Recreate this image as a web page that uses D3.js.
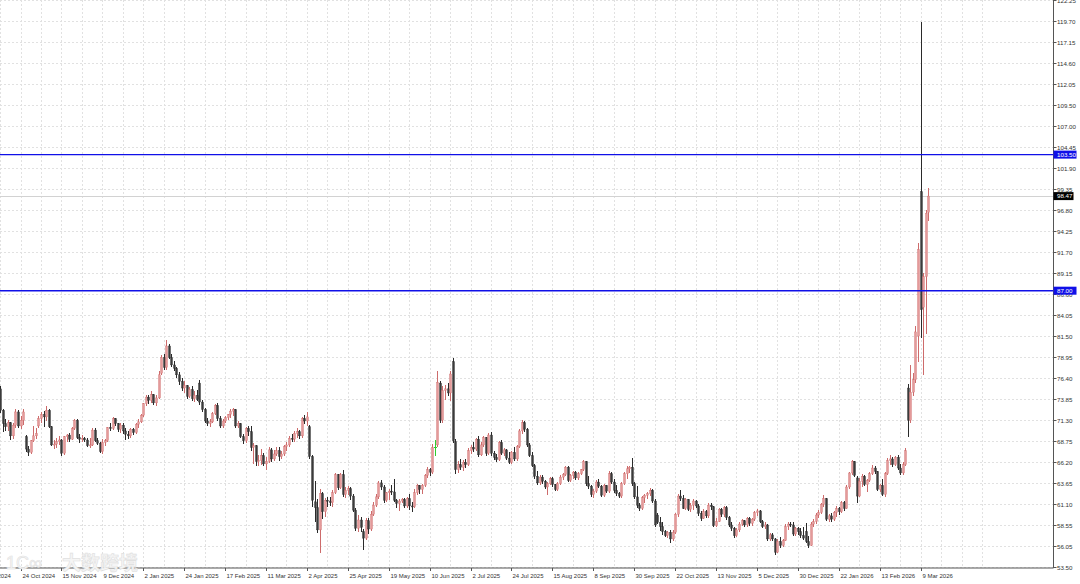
<!DOCTYPE html>
<html><head><meta charset="utf-8">
<script src="https://cdn.jsdelivr.net/npm/d3@7"></script>
<style>html,body{margin:0;padding:0;background:#fff;overflow:hidden}svg{display:block}</style>
</head><body><svg id="c" width="1080" height="584"></svg>
<script>
// Daily OHLC, first element = bar #8 of the axis (bar #0 = 2 Oct 2024)
const firstBar = 8;
const opens = [
75.1,72.5,70.9,70.5,71.0,69.4,70.7,72.3,
70.6,71.3,69.3,67.8,67.4,68.8,69.4,70.6,71.5,72.0,71.7,72.5,70.5,68.3,68.4,68.7,
68.9,67.3,69.3,69.5,69.0,70.3,71.3,69.2,69.0,69.1,68.9,68.2,68.3,70.1,68.8,68.5,
67.5,68.6,68.8,70.4,70.3,71.5,70.9,70.2,70.7,70.0,69.6,69.4,70.2,69.8,70.8,71.1,
71.9,73.3,74.1,73.7,74.4,73.4,74.0,77.0,78.9,77.7,80.3,78.9,78.0,77.6,76.8,76.0,
75.2,75.5,74.2,75.0,73.9,74.3,75.8,73.5,72.6,71.2,70.9,71.1,72.1,73.1,71.5,70.6,
71.2,71.6,72.0,72.4,72.6,70.6,70.9,69.3,68.8,70.3,69.9,68.0,68.2,66.3,66.4,67.0,
66.0,66.3,67.7,66.6,67.2,67.6,66.9,67.2,68.1,68.3,69.1,69.0,69.7,69.9,69.4,71.5,
71.2,70.5,66.9,61.4,60.7,58.0,62.4,60.2,61.6,61.5,61.3,62.5,64.7,63.1,64.7,62.3,
62.8,63.0,62.1,60.4,58.2,59.2,57.8,57.0,59.1,58.1,59.9,61.0,62.0,63.7,63.2,61.6,
62.5,62.7,62.6,61.6,61.2,61.5,61.7,60.9,61.8,60.9,60.8,62.5,63.4,62.9,63.4,64.6,
65.3,65.0,68.0,68.3,75.8,71.3,74.9,75.1,74.6,78.4,68.7,65.3,65.9,65.6,66.2,65.9,
67.6,68.0,67.8,69.0,67.1,68.3,69.2,67.3,69.5,67.3,66.8,66.5,68.6,67.3,67.7,66.7,
66.2,67.4,66.6,68.1,70.0,71.0,70.2,68.3,67.0,65.8,64.5,63.7,64.4,63.9,63.2,63.6,
64.2,63.5,62.9,63.6,64.4,64.7,65.6,64.0,64.6,65.0,64.3,64.8,65.3,66.3,63.6,63.3,
62.3,62.7,63.8,63.3,62.2,63.4,62.7,64.8,63.8,62.8,62.4,62.1,63.6,64.8,65.4,65.6,
63.6,62.0,61.0,60.6,61.9,62.2,62.4,62.8,61.5,59.8,58.9,58.4,57.8,57.3,57.7,56.9,
57.7,59.9,62.1,61.8,60.6,61.7,60.5,61.0,61.5,60.9,60.0,59.4,60.2,59.7,61.0,60.8,
58.5,59.0,60.5,59.9,60.7,59.5,58.6,58.2,57.3,58.0,58.7,59.1,58.6,59.4,58.8,59.3,
60.1,60.3,59.0,58.4,58.6,56.9,57.4,56.9,55.3,56.6,56.1,56.7,58.4,58.7,58.6,57.5,
58.2,57.8,57.3,57.8,56.6,56.1,58.7,59.0,59.8,60.1,61.1,61.8,59.3,59.7,59.3,60.1,
60.6,60.2,61.3,60.6,63.2,64.9,66.3,64.3,62.1,63.9,64.5,63.5,64.0,64.8,65.5,65.1,
62.9,63.4,62.3,64.8,66.4,66.6,65.9,66.8,65.5,64.9,65.9,75.2,71.3,74.7,76.2,81.5,
99.0,85.0,88.7,96.5];
const highs = [
75.4,72.7,71.4,71.3,71.1,70.9,72.6,72.5,
71.8,72.6,69.5,68.2,68.9,70.6,70.4,71.8,72.3,72.4,73.0,72.6,70.6,68.9,69.2,69.4,
69.0,69.4,69.6,69.8,70.5,71.5,71.4,69.6,69.5,69.3,69.1,69.2,70.3,70.3,69.2,68.7,
69.0,69.0,70.5,71.0,71.7,71.6,71.0,71.0,70.9,70.3,70.0,70.4,70.4,70.9,71.4,72.0,
73.4,74.3,74.4,74.8,74.5,74.3,77.3,79.2,79.3,81.0,80.5,79.3,78.5,77.8,77.2,76.4,
76.0,75.6,75.3,75.4,74.8,75.0,76.2,73.7,72.8,71.6,71.5,72.3,73.3,73.4,71.8,71.4,
71.8,72.1,72.6,72.8,72.7,71.2,71.0,69.6,70.5,70.6,70.6,68.5,68.3,67.1,67.8,67.3,
66.8,68.0,67.9,67.7,68.0,68.0,67.6,68.3,68.6,69.4,69.6,70.0,70.3,70.1,71.7,71.9,
72.3,70.7,67.1,63.9,61.8,62.9,62.6,61.9,62.0,62.0,62.8,64.9,64.8,64.9,65.3,63.2,
63.3,63.2,62.3,60.6,59.8,59.6,58.1,59.5,59.4,60.3,61.4,62.3,63.9,64.0,63.4,62.6,
62.9,63.5,64.2,61.8,61.8,61.9,61.9,62.0,62.4,61.4,63.0,63.6,63.5,63.6,64.8,65.6,
65.5,68.4,68.9,77.3,76.0,75.4,75.6,75.8,77.3,78.9,69.0,66.4,66.6,66.5,66.6,67.9,
68.3,68.6,69.2,69.4,68.6,69.4,69.3,69.8,69.9,67.6,67.2,68.8,68.9,67.9,67.8,67.4,
67.6,68.1,68.3,70.2,71.3,71.2,70.4,68.5,67.5,66.0,65.1,64.6,64.6,64.1,63.8,64.4,
64.4,63.6,63.8,64.6,64.9,65.8,65.8,64.8,65.2,65.1,65.0,65.4,66.5,66.4,64.5,63.5,
62.9,64.0,64.2,63.5,63.6,63.5,65.1,65.0,64.2,63.4,62.6,63.8,65.0,65.7,65.8,66.7,
63.8,63.3,61.3,62.1,62.4,62.6,63.1,62.9,61.7,60.0,59.6,59.0,58.0,57.9,58.0,58.0,
60.1,62.4,62.8,62.2,61.9,61.8,61.3,61.7,61.6,61.1,60.3,60.5,60.4,61.3,61.2,60.9,
59.4,60.7,60.7,60.9,60.9,59.7,59.0,58.4,58.2,58.9,59.3,59.2,59.6,59.6,59.5,60.3,
60.5,60.4,59.2,58.9,58.7,57.6,57.6,57.0,56.9,57.1,56.9,58.7,58.9,59.0,59.0,58.4,
58.4,58.2,58.3,58.8,57.2,58.9,59.3,60.0,60.4,61.3,62.2,61.9,59.9,60.0,60.3,60.9,
60.8,61.5,61.5,63.4,65.0,66.5,66.4,64.5,64.3,64.8,64.6,64.2,65.0,65.9,65.7,65.2,
63.6,64.2,65.0,66.7,67.1,66.8,67.0,67.1,66.0,66.2,67.9,75.7,78.0,77.0,82.7,92.8,
119.6,89.2,96.8,99.4];
const lows = [
72.2,69.9,70.0,70.0,68.9,69.0,70.4,70.4,
70.2,70.7,67.5,66.9,67.2,68.6,69.0,70.4,71.0,70.5,71.2,70.3,68.2,67.8,67.9,68.3,
67.0,67.1,68.6,68.7,68.9,70.1,69.0,68.5,68.6,68.7,68.1,67.9,68.2,68.6,68.3,67.3,
67.2,68.2,68.6,70.0,70.1,70.6,69.9,69.7,69.6,68.9,69.0,69.2,69.5,69.6,70.4,70.9,
71.7,73.0,73.3,73.4,73.1,73.0,73.9,76.8,77.4,77.4,78.7,77.8,77.3,76.4,75.6,74.8,
74.6,73.9,74.0,73.6,73.5,73.6,73.2,72.3,70.9,70.6,70.5,70.9,71.9,71.2,70.3,70.3,
70.9,71.3,71.6,71.8,70.4,70.3,69.1,68.4,68.5,69.4,67.6,66.0,65.8,65.8,65.9,65.7,
65.3,66.1,66.2,66.4,67.0,66.4,66.6,67.0,67.6,68.1,68.6,68.7,69.2,69.0,69.2,70.8,
70.6,66.6,60.8,58.9,57.6,55.2,59.3,59.6,60.8,60.9,60.8,62.3,62.8,62.9,62.0,61.9,
62.2,61.6,60.2,57.9,57.8,57.8,55.6,56.8,57.5,57.9,59.7,60.8,61.8,62.8,61.2,61.4,
61.6,62.2,61.4,60.6,60.3,61.2,60.6,60.7,60.4,60.2,60.6,62.2,62.4,62.3,63.2,64.3,
64.5,64.8,66.9,68.0,70.9,71.0,73.8,74.2,73.6,68.5,64.8,64.9,65.3,65.2,65.5,65.7,
67.2,67.5,67.6,66.8,66.9,68.0,67.0,67.1,67.0,66.5,66.2,66.3,67.1,66.9,66.5,66.0,
66.0,66.3,66.4,67.9,69.6,69.9,68.0,66.8,65.6,64.2,63.4,63.4,63.6,63.0,62.2,63.4,
63.2,62.7,62.7,63.5,64.0,64.5,63.8,63.8,64.2,64.1,64.1,64.6,65.2,63.3,63.0,62.0,
61.9,62.5,63.1,62.0,62.0,62.5,62.5,63.6,62.5,62.1,61.9,61.9,63.4,64.2,64.9,63.3,
61.7,60.7,60.3,60.4,61.3,61.7,62.1,61.2,58.3,58.7,57.9,57.4,57.1,57.0,56.4,56.7,
57.5,59.6,61.5,60.5,60.4,60.3,60.2,60.4,60.6,59.7,59.1,59.3,59.4,59.5,60.4,58.3,
58.3,58.9,59.6,59.6,59.2,58.3,57.9,57.0,57.1,57.8,58.5,58.4,58.4,58.5,58.5,59.1,
59.7,58.8,58.2,58.1,56.6,56.7,56.6,55.0,55.2,55.8,55.9,56.6,58.0,58.3,57.3,57.3,
57.4,57.0,56.8,56.4,55.8,56.0,58.4,58.7,59.5,59.9,60.8,59.1,58.9,59.0,59.1,59.6,
59.8,60.1,60.3,60.5,63.0,64.7,64.4,61.2,62.0,63.2,63.3,62.6,63.8,64.6,64.8,62.7,
62.6,62.1,62.0,64.6,65.9,65.6,65.7,65.3,64.6,64.7,65.7,69.3,70.9,74.2,75.8,78.4,
81.3,76.8,81.8,95.4];
const closes = [
72.5,70.9,70.5,71.0,69.4,70.7,72.3,70.6,
71.3,72.3,67.8,67.4,68.8,69.4,69.7,71.5,72.0,71.7,72.5,70.5,68.3,68.4,68.7,68.9,
67.3,69.3,69.5,69.0,70.3,71.3,69.2,69.0,69.1,68.9,68.2,68.3,70.1,68.8,68.5,67.5,
68.6,68.8,70.4,70.3,71.5,70.9,70.2,70.7,70.0,69.6,69.4,70.2,69.8,70.8,71.1,71.9,
73.3,74.1,73.7,74.4,73.4,74.0,76.8,78.9,77.7,80.3,78.9,78.0,77.6,76.8,76.0,75.2,
75.5,74.2,75.0,73.9,74.3,73.8,73.5,72.6,71.2,70.9,71.1,72.1,73.1,71.5,70.6,71.2,
71.6,72.0,72.4,72.6,70.6,70.9,69.3,68.8,70.3,69.9,68.0,68.2,66.3,66.4,67.0,66.0,
66.3,67.7,66.6,67.2,67.6,66.9,67.2,68.1,68.3,69.1,69.0,69.7,69.9,69.4,71.5,71.2,
71.7,66.9,61.6,60.7,58.0,62.4,60.2,61.6,61.5,61.3,62.5,64.7,63.1,64.7,62.3,62.8,
63.0,62.1,60.4,58.2,59.2,58.3,57.0,59.1,58.1,59.9,61.0,62.0,63.7,63.2,61.6,62.5,
62.7,62.6,61.6,61.2,61.5,61.7,60.9,61.8,60.9,60.8,62.5,63.4,62.9,63.4,64.6,65.3,
65.0,68.0,68.0,75.9,71.3,74.9,75.1,74.6,76.9,68.8,65.3,65.9,65.6,66.2,65.9,67.6,
68.0,67.8,69.0,67.1,68.3,69.2,67.3,69.5,67.3,66.8,66.5,68.6,67.3,67.7,66.7,66.2,
67.4,66.6,68.1,70.0,71.0,70.2,68.3,67.0,65.8,64.5,63.7,64.4,63.9,63.2,63.6,64.2,
63.5,62.9,63.6,64.4,64.7,65.6,64.0,64.6,65.0,64.3,64.8,65.3,66.3,63.6,63.3,62.3,
62.7,63.8,63.3,62.2,63.4,62.7,64.8,63.8,62.8,62.4,62.1,63.6,64.8,65.4,65.6,63.6,
62.0,61.0,60.6,61.9,62.2,62.4,62.8,61.5,58.6,58.9,58.4,57.8,57.3,57.7,56.9,57.7,
59.9,62.1,61.8,60.6,61.7,60.5,61.0,61.5,60.9,60.0,59.4,60.2,59.7,61.0,60.8,58.5,
59.0,60.5,59.9,60.7,59.5,58.6,58.2,57.3,58.0,58.7,59.1,58.6,59.4,58.8,59.3,60.1,
60.3,59.0,58.4,58.6,56.9,57.4,56.9,55.3,56.6,56.1,56.7,58.4,58.7,58.6,57.5,58.2,
57.8,57.3,57.0,56.6,56.1,58.7,59.0,59.8,60.1,61.1,61.8,59.3,59.7,59.3,60.1,60.6,
60.2,61.3,60.6,63.2,64.9,66.3,64.6,62.1,63.9,64.5,63.5,64.0,64.8,65.5,65.1,62.9,
63.4,62.3,64.8,66.4,66.6,65.9,66.8,65.5,64.9,65.9,67.6,71.3,74.7,76.2,82.0,92.0,
84.7,88.7,96.4,98.47];

const priceTickLabels = ["53.50","56.05","58.55","61.10","63.65","66.20","68.75","71.30","73.85","76.40","78.95","81.50","84.05","86.60","89.15","91.70","94.25","96.80","99.35","101.90","104.45","107.00","109.50","112.05","114.60","117.15","119.70","122.25"];
const dateLabels = ["2 Oct 2024","24 Oct 2024","15 Nov 2024","9 Dec 2024","2 Jan 2025","24 Jan 2025","17 Feb 2025","11 Mar 2025","2 Apr 2025","25 Apr 2025","19 May 2025","10 Jun 2025","2 Jul 2025","24 Jul 2025","15 Aug 2025","8 Sep 2025","30 Sep 2025","22 Oct 2025","13 Nov 2025","5 Dec 2025","30 Dec 2025","22 Jan 2026","13 Feb 2026","9 Mar 2026"];
const barsPerLabel = 16;
const levelLines = [103.50, 87.00];
const levelTexts = ["103.50", "87.00"];
const lastPrice = 98.47;
const lastPriceText = "98.47";

const n = closes.length;
if (opens.length !== n || highs.length !== n || lows.length !== n) {
  throw new Error("length mismatch o" + opens.length + " h" + highs.length + " l" + lows.length + " c" + n);
}

const svg = d3.select("#c");
const plotR = 1053.5, plotB = 568;
const x = d3.scaleLinear().domain([16, 368]).range([20.5, 920.6]);
const y = d3.scaleLinear().domain([53.50, 119.70]).range([567, 21]);

svg.append("defs").append("clipPath").attr("id", "pc")
  .append("rect").attr("x", 0).attr("y", 0).attr("width", plotR).attr("height", plotB);

const g = svg.append("g").attr("clip-path", "url(#pc)");

// grid
const vBars = d3.range(0, 400, 8);
g.selectAll(".vg").data(vBars).join("line")
  .attr("x1", d => Math.round(x(d)) + 0.5).attr("x2", d => Math.round(x(d)) + 0.5)
  .attr("y1", 0).attr("y2", plotB)
  .attr("stroke", "#e1e1e1").attr("stroke-width", 1).attr("stroke-dasharray", "2,2");
g.selectAll(".hg").data(priceTickLabels).join("line")
  .attr("x1", 0).attr("x2", plotR)
  .attr("y1", d => Math.round(y(+d)) + 0.5).attr("y2", d => Math.round(y(+d)) + 0.5)
  .attr("stroke", "#e1e1e1").attr("stroke-width", 1).attr("stroke-dasharray", "2,2");

// bid line
g.append("line").attr("x1", 0).attr("x2", plotR)
  .attr("y1", Math.round(y(lastPrice)) + 0.5).attr("y2", Math.round(y(lastPrice)) + 0.5)
  .attr("stroke", "#d2d2d2").attr("stroke-width", 1);

// candles
const bars = d3.range(n).map(i => ({i: i + firstBar, o: opens[i], h: highs[i], l: lows[i], c: closes[i]}));
const up = "#e49a9a", upW = "#cd6b6b", dn = "#3b3b3b", dnW = "#2a2a2a", dj = "#2ecc2e";
const cg = g.append("g");
bars.forEach(b => {
  const cx = Math.round(x(b.i));
  const col = b.c > b.o ? up : (b.c < b.o ? dn : dj);
  const wcol = b.c > b.o ? upW : (b.c < b.o ? dnW : dj);
  const hi = Math.max(b.h, b.o, b.c), lo = Math.min(b.l, b.o, b.c);
  cg.append("rect").attr("x", cx).attr("width", 1)
    .attr("y", y(hi)).attr("height", Math.max(1, y(lo) - y(hi)))
    .attr("fill", wcol).attr("shape-rendering", "crispEdges");
  const top = y(Math.max(b.o, b.c)), bot = y(Math.min(b.o, b.c));
  if (b.c !== b.o) {
    cg.append("rect").attr("x", cx - 0.5).attr("width", 2)
      .attr("y", top).attr("height", Math.max(1, bot - top))
      .attr("fill", col).attr("stroke", wcol).attr("stroke-width", 0.35);
  } else {
    cg.append("rect").attr("x", cx - 1).attr("width", 3)
      .attr("y", Math.round(top)).attr("height", 1).attr("fill", dj);
  }
});

// level lines
g.selectAll(".lv").data(levelLines).join("line")
  .attr("x1", 0).attr("x2", plotR)
  .attr("y1", d => y(d)).attr("y2", d => y(d))
  .attr("stroke", "#1010e8").attr("stroke-width", 1.4);

// axes frame
svg.append("line").attr("x1", plotR).attr("x2", plotR).attr("y1", 0).attr("y2", plotB)
  .attr("stroke", "#555").attr("stroke-width", 1);
svg.append("line").attr("x1", 0).attr("x2", plotR).attr("y1", plotB).attr("y2", plotB)
  .attr("stroke", "#555").attr("stroke-width", 1);

// price ticks + labels
const fontF = "'Liberation Sans', Arial, sans-serif";
priceTickLabels.forEach(t => {
  const yy = Math.round(y(+t)) + 0.5;
  svg.append("line").attr("x1", plotR).attr("x2", plotR + 3).attr("y1", yy).attr("y2", yy)
    .attr("stroke", "#555").attr("stroke-width", 1);
  svg.append("text").attr("x", plotR + 3.5).attr("y", yy).attr("dy", "0.35em")
    .attr("font-family", fontF).attr("font-size", 6.2).attr("fill", "#333").text(t);
});

// date ticks + labels
dateLabels.forEach((t, k) => {
  const xx = Math.round(x(k * barsPerLabel)) + 0.5;
  svg.append("line").attr("x1", xx).attr("x2", xx).attr("y1", plotB).attr("y2", plotB + 3)
    .attr("stroke", "#555").attr("stroke-width", 1);
  svg.append("text").attr("x", xx + 1).attr("y", 578)
    .attr("font-family", fontF).attr("font-size", 6).attr("fill", "#333").text(t);
});

// level labels
levelLines.forEach((v, k) => {
  const yy = y(v);
  svg.append("rect").attr("x", plotR).attr("y", yy - 4).attr("width", 23).attr("height", 8).attr("fill", "#1010e8");
  svg.append("text").attr("x", plotR + 3.5).attr("y", yy).attr("dy", "0.35em")
    .attr("font-family", fontF).attr("font-size", 6.2).attr("fill", "#fff").text(levelTexts[k]);
});
{
  const yy = y(lastPrice);
  svg.append("rect").attr("x", plotR).attr("y", yy - 4).attr("width", 20).attr("height", 8).attr("fill", "#000");
  svg.append("text").attr("x", plotR + 3.5).attr("y", yy).attr("dy", "0.35em")
    .attr("font-family", fontF).attr("font-size", 6.2).attr("fill", "#fff").text(lastPriceText);
}

// watermark
svg.append("text").attr("x", 62).attr("y", 570)
  .attr("font-family", "'Noto Sans CJK SC', sans-serif").attr("font-size", 19).attr("font-weight", "bold")
  .attr("fill", "#f5f5f5").attr("stroke", "#e0e0e0").attr("stroke-width", 0.6).text("大数跨境");
svg.append("text").attr("x", 6).attr("y", 569)
  .attr("font-family", fontF).attr("font-size", 18)
  .attr("fill", "#f6f6f6").attr("stroke", "#e2e2e2").attr("stroke-width", 0.6).text("1C∞");
</script></body></html>
